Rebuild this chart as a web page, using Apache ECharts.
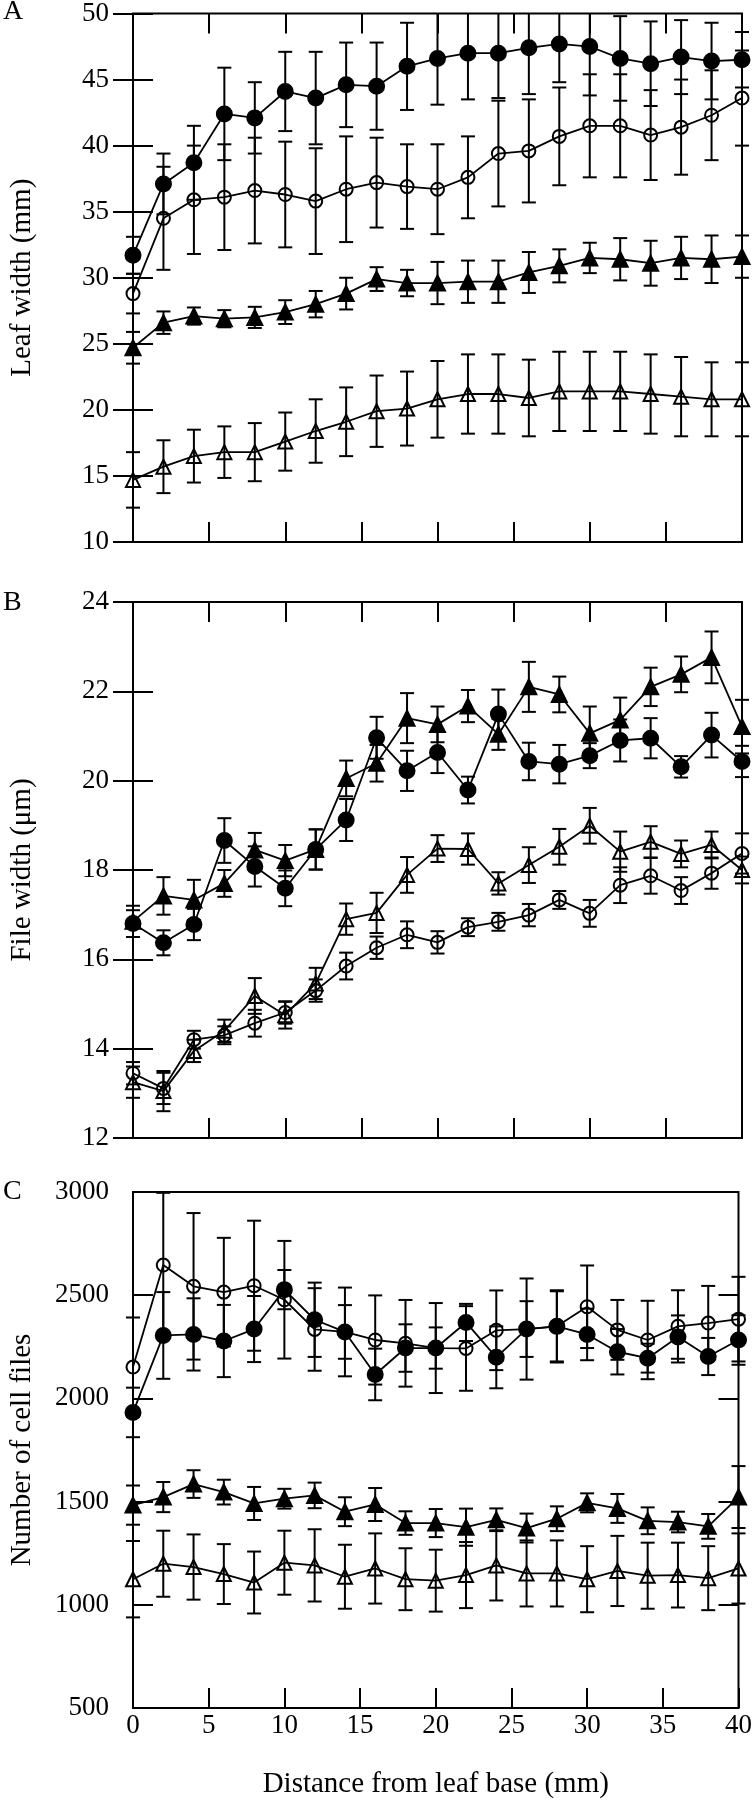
<!DOCTYPE html>
<html><head><meta charset="utf-8">
<script src="https://cdn.jsdelivr.net/npm/echarts@6/dist/echarts.min.js"></script>
<style>html,body{margin:0;padding:0;background:#fff}#c{width:755px;height:1800px}</style>
</head><body><div id="c"></div><script>
// ---- data ----
var distances = [0,2,4,6,8,10,12,14,16,18,20,22,24,26,28,30,32,34,36,38,40];
var xTicks = [0,5,10,15,20,25,30,35,40];

// Panel A: Leaf width (mm)
var A_filledCircle    = [31.7,37.1,38.7,42.4,42.1,44.1,43.6,44.6,44.5,46.0,46.6,47.0,47.0,47.4,47.7,47.5,46.6,46.2,46.7,46.4,46.5];
var A_filledCircleErr = [1.4,2.3,2.8,3.5,2.7,3.0,3.5,3.2,3.3,3.3,3.5,3.5,3.4,3.5,2.9,3.7,3.2,3.2,2.8,2.9,2.1];
var A_openCircle      = [28.8,34.5,35.9,36.1,36.6,36.3,35.8,36.7,37.2,36.9,36.7,37.6,39.4,39.6,40.7,41.5,41.5,40.8,41.4,42.3,43.6];
var A_openCircleErr   = [1.5,3.9,4.1,4.0,4.0,4.0,4.0,4.0,3.4,3.2,3.4,3.1,4.0,3.9,3.7,3.9,3.9,3.4,3.6,3.4,3.6];
var A_filledTri       = [24.7,26.6,27.1,26.9,27.0,27.4,28.0,28.8,29.9,29.6,29.6,29.7,29.7,30.4,30.9,31.5,31.4,31.1,31.5,31.4,31.6];
var A_filledTriErr    = [1.2,0.85,0.65,0.65,0.8,0.9,1.0,1.2,0.9,1.0,1.6,1.6,1.6,1.55,1.25,1.15,1.6,1.7,1.6,1.8,1.6];
var A_openTri         = [14.7,15.7,16.5,16.8,16.8,17.6,18.4,19.1,19.9,20.1,20.8,21.2,21.2,20.9,21.4,21.4,21.4,21.2,21.0,20.8,20.8];
var A_openTriErr      = [2.1,2.0,2.0,1.95,2.2,2.2,2.4,2.6,2.7,2.8,2.9,3.0,3.0,2.9,3.0,3.0,3.0,3.0,3.0,2.8,2.8];

// Panel B: File width (um)
var B_filledCircle    = [16.8,16.37,16.78,18.66,18.08,17.59,18.46,19.12,20.96,20.22,20.63,19.79,21.49,20.43,20.37,20.56,20.9,20.95,20.31,21.02,20.43];
var B_filledCircleErr = [0.3,0.28,0.35,0.5,0.45,0.4,0.45,0.47,0.47,0.45,0.46,0.3,0.55,0.42,0.43,0.28,0.47,0.45,0.24,0.5,0.35];
var B_filledTri       = [16.85,17.42,17.33,17.7,18.45,18.21,18.46,20.05,20.39,21.4,21.26,21.67,21.04,22.1,21.93,21.06,21.36,22.1,22.38,22.76,21.21];
var B_filledTriErr    = [0.35,0.42,0.45,0.3,0.38,0.35,0.45,0.4,0.41,0.56,0.4,0.36,0.35,0.56,0.4,0.6,0.5,0.43,0.4,0.58,0.6];
var B_openCircle      = [13.45,13.11,14.2,14.3,14.57,14.81,15.3,15.85,16.26,16.55,16.38,16.72,16.84,16.99,17.33,17.03,17.66,17.87,17.54,17.93,18.37];
var B_openCircleErr   = [0.25,0.35,0.2,0.2,0.3,0.25,0.25,0.3,0.25,0.3,0.25,0.2,0.2,0.25,0.2,0.3,0.4,0.4,0.3,0.35,0.45];
var B_openTri         = [13.25,13.05,13.95,14.4,15.18,14.75,15.46,16.9,17.04,17.89,18.48,18.47,17.7,18.11,18.52,18.99,18.41,18.63,18.36,18.56,18.0];
var B_openTriErr      = [0.35,0.45,0.25,0.25,0.4,0.3,0.35,0.35,0.45,0.4,0.3,0.35,0.25,0.4,0.4,0.4,0.45,0.35,0.3,0.3,0.3];

// Panel C: Number of cell files
var C_openCircle      = [2152,2646,2543,2515,2546,2478,2334,2322,2283,2267,2244,2242,2330,2336,2349,2444,2332,2283,2349,2365,2384];
var C_openCircleErr   = [240,350,355,263,315,285,200,215,216,210,218,205,193,245,175,200,145,190,175,180,205];
var C_filledCircle    = [1932,2305,2310,2278,2336,2527,2381,2322,2116,2244,2244,2368,2199,2336,2349,2310,2226,2195,2297,2203,2283];
var C_filledCircleErr = [120,210,175,175,160,95,180,130,125,115,100,90,150,135,170,125,110,70,105,90,120];
var C_filledTri       = [1483,1522,1585,1546,1491,1514,1530,1451,1486,1396,1396,1376,1412,1372,1417,1494,1467,1407,1401,1380,1522];
var C_filledTriErr    = [95,73,67,60,80,48,62,70,80,57,68,90,55,70,60,46,70,65,50,60,150];
var C_openTri         = [1124,1199,1183,1149,1108,1204,1191,1136,1176,1124,1117,1144,1191,1152,1152,1124,1164,1141,1144,1129,1176];
var C_openTriErr      = [185,160,158,145,150,155,175,155,170,150,150,160,170,160,160,160,170,160,157,155,170];

var panelLetters = ['A','B','C'];
var yTitles = ['Leaf width (mm)','File width (\u03bcm)','Number of cell files'];
var xTitle = 'Distance from leaf base (mm)';
var yMins = [10,12,500], yMaxs = [50,24,3000], yIntervals = [5,2,500];

// ---- layout/style ----
var FONT = "'Liberation Serif','Times New Roman','DejaVu Serif',serif";
var grids = [
  {left:116, top:13,   width:626, height:529},
  {left:116, top:602,  width:626, height:536},
  {left:116, top:1192, width:626, height:526}
];
var tickStyle = {show:true, inside:true, length:20, lineStyle:{color:'#000', width:2}};
function plainNum(v){ return String(v); }

var xAxes = [], yAxes = [], series = [];
var mainX = [], mainY = [];
for (var p = 0; p < 3; p++) {
  mainX.push(xAxes.length);
  xAxes.push({
    type:'value', gridIndex:p, min:0, max:40, interval:5, position:'bottom',
    axisLine:{show:false}, splitLine:{show:false},
    axisTick:tickStyle,
    axisLabel:{show:p===2, fontSize:27, color:'#000', fontFamily:FONT, margin:4, formatter:plainNum},
    name: p===2 ? xTitle : '', nameLocation:'middle', nameGap:62,
    nameTextStyle:{fontSize:29, color:'#000', fontFamily:FONT}
  });
  if (p < 2) {
    xAxes.push({
      type:'value', gridIndex:p, min:0, max:40, interval:5, position:'top',
      axisLine:{show:false}, splitLine:{show:false}, axisTick:tickStyle, axisLabel:{show:false}
    });
  }
  mainY.push(yAxes.length);
  yAxes.push({
    type:'value', gridIndex:p, min:yMins[p], max:yMaxs[p], interval:yIntervals[p], position:'left',
    axisLine:{show:false}, splitLine:{show:false}, axisTick:tickStyle,
    axisLabel:{fontSize:27, color:'#000', fontFamily:FONT, margin:24, formatter:plainNum},
    name:yTitles[p], nameLocation:'middle', nameGap:96, nameRotate:90,
    nameTextStyle:{fontSize:29, color:'#000', fontFamily:FONT}
  });
  yAxes.push({
    type:'value', gridIndex:p, min:yMins[p], max:yMaxs[p], interval:yIntervals[p], position:'right',
    axisLine:{show:false}, splitLine:{show:false}, axisTick:tickStyle, axisLabel:{show:false}
  });
}

var markerStyles = {
  fc:{symbol:'circle', size:15, fill:'#000'},
  oc:{symbol:'circle', size:13, fill:'rgba(255,255,255,0)'},
  ft:{symbol:'triangle', size:15, fill:'#000'},
  ot:{symbol:'triangle', size:14, fill:'rgba(255,255,255,0)'}
};

function addSeries(p, kind, vals, errs) {
  var m = markerStyles[kind];
  var yMin = yMins[p], yMax = yMaxs[p];
  series.push({
    type:'line', xAxisIndex:mainX[p], yAxisIndex:mainY[p],
    data: distances.map(function(x,i){return [x, vals[i]];}),
    symbol:m.symbol, symbolSize:m.size, showSymbol:true, showAllSymbol:true,
    lineStyle:{color:'#000', width:1.8},
    itemStyle:{color:m.fill, borderColor:'#000', borderWidth:2},
    z:3, silent:true, animation:false
  });
  series.push({
    type:'custom', xAxisIndex:mainX[p], yAxisIndex:mainY[p],
    data: distances.map(function(x,i){return [x, vals[i], errs[i]];}),
    renderItem:function(params, api){
      var x = api.value(0), y = api.value(1), e = api.value(2);
      var hi = Math.min(y+e, yMax), lo = Math.max(y-e, yMin);
      var pHi = api.coord([x, hi]), pLo = api.coord([x, lo]);
      var st = {stroke:'#000', lineWidth:2};
      var cw = 7;
      var ch = [{type:'line', shape:{x1:pHi[0], y1:pHi[1], x2:pLo[0], y2:pLo[1]}, style:st}];
      if (y+e <= yMax) ch.push({type:'line', shape:{x1:pHi[0]-cw, y1:pHi[1], x2:pHi[0]+cw, y2:pHi[1]}, style:st});
      if (y-e >= yMin) ch.push({type:'line', shape:{x1:pLo[0]-cw, y1:pLo[1], x2:pLo[0]+cw, y2:pLo[1]}, style:st});
      return {type:'group', children:ch};
    },
    z:4, silent:true, animation:false
  });
}

addSeries(0,'fc',A_filledCircle,A_filledCircleErr);
addSeries(0,'oc',A_openCircle,A_openCircleErr);
addSeries(0,'ft',A_filledTri,A_filledTriErr);
addSeries(0,'ot',A_openTri,A_openTriErr);
addSeries(1,'fc',B_filledCircle,B_filledCircleErr);
addSeries(1,'ft',B_filledTri,B_filledTriErr);
addSeries(1,'oc',B_openCircle,B_openCircleErr);
addSeries(1,'ot',B_openTri,B_openTriErr);
addSeries(2,'oc',C_openCircle,C_openCircleErr);
addSeries(2,'fc',C_filledCircle,C_filledCircleErr);
addSeries(2,'ft',C_filledTri,C_filledTriErr);
addSeries(2,'ot',C_openTri,C_openTriErr);

var letterY = [13, 604, 1193];
var graphics = panelLetters.map(function(t,i){
  return {type:'text', left:3, top:letterY[i]-15, style:{text:t, fontSize:28, fontFamily:FONT, fill:'#000'}};
});

var chart = echarts.init(document.getElementById('c'), null, {renderer:'canvas'});
chart.setOption({
  animation:false,
  backgroundColor:'#fff',
  grid: grids.map(function(g){return Object.assign({show:true, borderColor:'#000', borderWidth:2, backgroundColor:'rgba(0,0,0,0)'}, g);}),
  xAxis:xAxes, yAxis:yAxes, series:series, graphic:graphics
});
</script></body></html>
